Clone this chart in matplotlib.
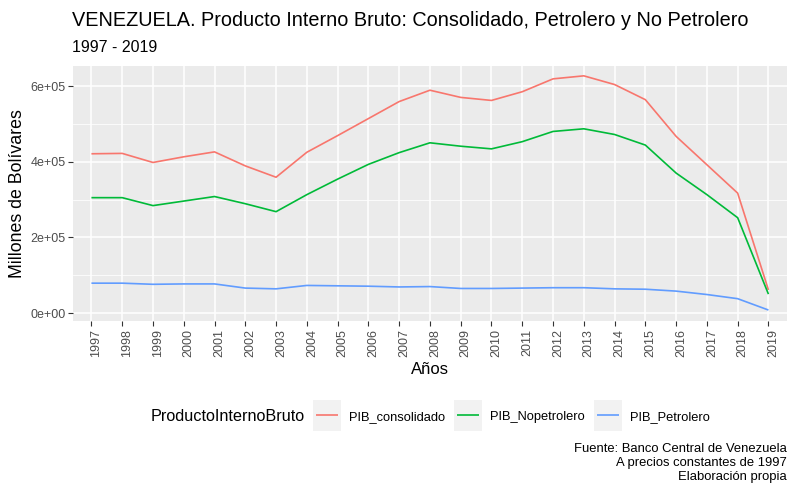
import matplotlib
matplotlib.use("Agg")
import matplotlib.pyplot as plt
import numpy as np
from matplotlib.legend_handler import HandlerLine2D
from matplotlib.patches import Rectangle
from matplotlib.ticker import FuncFormatter, MultipleLocator
from matplotlib.transforms import ScaledTranslation

years = list(range(1997, 2020))
pib_consolidado = [421000, 422000, 398000, 413000, 426000, 389000, 359000, 425000, 469000,
                   514000, 559000, 589000, 570000, 562000, 585000, 619000, 627000, 604000,
                   564000, 467000, 392000, 317000, 61000]
pib_nopetrolero = [305000, 305000, 284000, 296000, 308000, 289000, 268000, 313000, 354000,
                   393000, 424000, 450000, 441000, 434000, 453000, 480000, 487000, 472000,
                   444000, 370000, 313000, 252000, 50000]
pib_petrolero = [79000, 79000, 76000, 77000, 77000, 66000, 64000, 73000, 72000,
                 71000, 69000, 70000, 65000, 65000, 66000, 67000, 67000, 64000,
                 63000, 58000, 49000, 38000, 8000]

series = [
    ("PIB_consolidado", pib_consolidado, "#F8766D"),
    ("PIB_Nopetrolero", pib_nopetrolero, "#00BA38"),
    ("PIB_Petrolero", pib_petrolero, "#619CFF"),
]

plt.rcParams["font.family"] = ["Liberation Sans", "DejaVu Sans"]


class KeyHandler(HandlerLine2D):
    # ggplot-like legend key: grey box behind the line
    def create_artists(self, legend, orig_handle, xdescent, ydescent, width, height, fontsize, trans):
        box = Rectangle((-xdescent - 2, -ydescent - 8), width + 4, height + 16,
                        facecolor="#F2F2F2", edgecolor="none", transform=trans)
        arts = super().create_artists(legend, orig_handle, xdescent, ydescent, width, height, fontsize, trans)
        return [box] + arts


fig = plt.figure(figsize=(7.88, 4.86), dpi=100)
ax = fig.add_axes([0.0926, 0.3395, 0.906, 0.5247])
ax.set_facecolor("#EBEBEB")

x = np.arange(len(years))
handles = []
for name, vals, col in series:
    (ln,) = ax.plot(x, vals, color=col, lw=1.2, label=name, solid_capstyle="butt")
    handles.append(ln)

ax.set_xlim(-0.6, len(years) - 0.4)
ax.set_ylim(-21000, 653000)
ax.set_xticks(x)
ax.set_xticklabels([str(y) for y in years], rotation=90, va="top", ha="center")
ax.yaxis.set_major_locator(MultipleLocator(200000))
ax.yaxis.set_minor_locator(MultipleLocator(100000))
ax.yaxis.set_major_formatter(FuncFormatter(lambda v, p: "%.0e" % v if v != 0 else "0e+00"))

ax.grid(True, which="major", color="white", lw=1.1)
ax.grid(True, which="minor", axis="y", color="white", lw=0.55)
ax.set_axisbelow(True)
for s in ax.spines.values():
    s.set_visible(False)
ax.tick_params(axis="both", which="major", length=3.5, width=0.8, color="#333333",
               labelsize=9, labelcolor="#4D4D4D", pad=2)
ax.tick_params(axis="y", which="minor", length=0)
for lab in ax.get_xticklabels():
    lab.set_transform(lab.get_transform() + ScaledTranslation(0.05, 0, fig.dpi_scale_trans))

ax.set_xlabel("Años", fontsize=12, labelpad=4)
ax.set_ylabel("Millones de Bolívares", fontsize=12.8, labelpad=3)

fig.text(0.0915, 0.958, "VENEZUELA. Producto Interno Bruto: Consolidado, Petrolero y No Petrolero",
         fontsize=14.3, va="center", ha="left")
fig.text(0.0915, 0.903, "1997 - 2019", fontsize=11.5, va="center", ha="left")

fig.text(0.191, 0.142, "ProductoInternoBruto", fontsize=11.7, va="center", ha="left")
fig.legend(handles=handles, loc="center left", bbox_to_anchor=(0.386, 0.142), ncol=3,
           frameon=False, fontsize=9.3, handlelength=1.7, handletextpad=0.85, columnspacing=0.95,
           handler_map={plt.Line2D: KeyHandler()})

fig.text(0.998, 0.0473, "Fuente: Banco Central de Venezuela\nA precios constantes de 1997\nElaboración propia",
         fontsize=9.4, ha="right", va="center", linespacing=1.19)

fig.savefig("out.png", dpi=100)
